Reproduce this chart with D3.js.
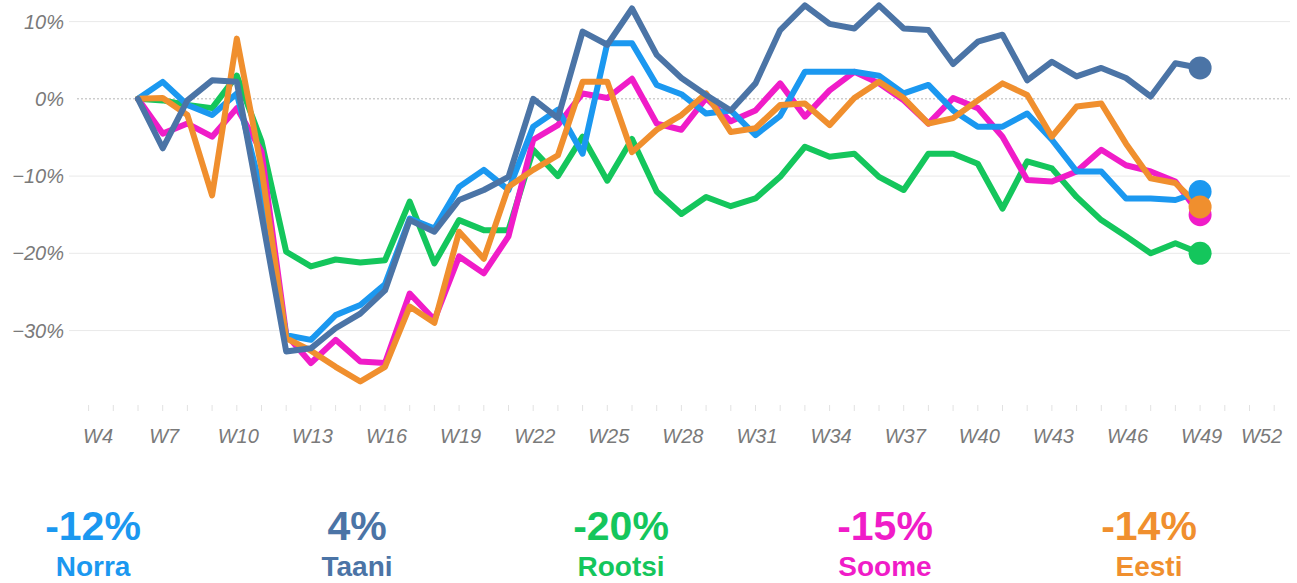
<!DOCTYPE html>
<html>
<head>
<meta charset="utf-8">
<script src="https://cdn.jsdelivr.net/npm/d3@7"></script>
<style>
  html, body { margin: 0; padding: 0; background: #fff; }
  svg { display: block; }
  text { font-family: "Liberation Sans", Arial, Helvetica, sans-serif; }
</style>
</head>
<body>
<svg id="chart" width="1297" height="583"></svg>
<script>
// Weekly change vs. baseline (%), weeks 6..49
const weeks = d3.range(6, 50);

const norra = [0, 2.2, -0.8, -2.1, 0.7, -12, -30.6, -31.2, -28, -26.7, -24, -15.5, -16.8, -11.4, -9.2, -11.8,
  -3.6, -1.4, -7.1, 7.2, 7.2, 1.8, 0.6, -1.9, -1.5, -4.7, -2.2, 3.5, 3.5, 3.5, 3.0, 0.7, 1.8, -1.5,
  -3.6, -3.6, -1.9, -5.3, -9.4, -9.4, -12.9, -12.9, -13.1, -12];

const taani = [0, -6.4, -0.2, 2.4, 2.2, -15, -32.7, -32.3, -29.7, -27.8, -24.8, -15.7, -17.2, -13.1, -11.8, -10.1,
  0, -2.5, 8.7, 7, 11.7, 5.7, 2.7, 0.5, -1.5, 2.0, 8.9, 12.1, 9.7, 9.1, 12.1, 9.1, 8.9, 4.5,
  7.4, 8.3, 2.4, 4.8, 2.9, 4.0, 2.7, 0.3, 4.6, 4];

const rootsi = [0, -0.2, -0.8, -1.2, 3.0, -5.5, -19.8, -21.7, -20.8, -21.2, -20.9, -13.3, -21.3, -15.7, -17, -17,
  -6.6, -10, -4.9, -10.6, -5.2, -12, -14.9, -12.7, -13.9, -12.9, -10.1, -6.2, -7.5, -7.1, -10.1, -11.8, -7.1, -7.1,
  -8.4, -14.2, -8.1, -9.0, -12.7, -15.7, -17.8, -20.0, -18.7, -20];

const soome = [0, -4.5, -3.2, -4.9, -1.2, -6.8, -30.5, -34.2, -31.2, -34, -34.2, -25.2, -28.6, -20.4, -22.6, -17.8,
  -5.3, -3.4, 0.7, 0.1, 2.6, -3.2, -4.0, 0.1, -2.9, -1.5, 2.0, -2.3, 1.1, 3.5, 2.0, -0.2, -3.2, 0.1,
  -1.2, -4.9, -10.5, -10.7, -9.4, -6.6, -8.6, -9.4, -10.7, -15];

const eesti = [0, 0.1, -2.1, -12.5, 7.8, -9, -31, -32.6, -34.7, -36.6, -34.7, -26.9, -29, -17.2, -20.7, -11.4,
  -9.2, -7.3, 2.2, 2.2, -6.9, -4.0, -2.1, 0.7, -4.3, -3.8, -0.8, -0.6, -3.4, 0.1, 2.2, 0.1, -3.2, -2.5,
  -0.2, 2.0, 0.5, -4.9, -1.0, -0.6, -5.8, -10.3, -10.9, -14];

const seriesNames = ["Norra", "Taani", "Rootsi", "Soome", "Eesti"];
const seriesValues = [norra, taani, rootsi, soome, eesti];
const seriesColors = ["#1b98f0", "#4b74a6", "#14c65c", "#f01cc8", "#f08f2e"];
// stacking order of the lines (bottom to top)
const drawOrder = ["Rootsi", "Soome", "Norra", "Eesti", "Taani"];

const yTicks = [10, 0, -10, -20, -30];
const xTickWeeks = [4, 7, 10, 13, 16, 19, 22, 25, 28, 31, 34, 37, 40, 43, 46, 49, 52];
const allWeeks = d3.range(4, 53);

const svg = d3.select("#chart");

const x = d3.scaleLinear().domain([4, 52]).range([88.6, 1274.2]);
const y = d3.scaleLinear().domain([-40, 10]).range([407.8, 21.6]);

const fmtPct = v => (v < 0 ? "\u2212" : "") + Math.abs(v) + "%";

// horizontal gridlines
const grid = svg.append("g");
grid.selectAll("line")
  .data(yTicks)
  .join("line")
  .attr("x1", d => d === 0 ? 77 : 69)
  .attr("x2", 1290)
  .attr("y1", d => y(d))
  .attr("y2", d => y(d))
  .attr("stroke", d => d === 0 ? "#b5b5b5" : "#e9e9e9")
  .attr("stroke-width", 1)
  .attr("stroke-dasharray", d => d === 0 ? "2,2" : null);

// y axis labels
svg.append("g").selectAll("text")
  .data(yTicks)
  .join("text")
  .attr("x", 64)
  .attr("y", d => y(d) + 7)
  .attr("text-anchor", "end")
  .attr("font-size", 20)
  .attr("font-style", "italic")
  .attr("fill", "#7a7a7a")
  .text(fmtPct);

// week tick marks
svg.append("g").selectAll("line")
  .data(allWeeks)
  .join("line")
  .attr("x1", d => x(d))
  .attr("x2", d => x(d))
  .attr("y1", 405)
  .attr("y2", 411)
  .attr("stroke", "#e2e2e2")
  .attr("stroke-width", 1);

// week labels, kept inside the chart edges
const xl = svg.append("g").selectAll("text")
  .data(xTickWeeks)
  .join("text")
  .attr("x", d => x(d) + 1.5)
  .attr("y", 443)
  .attr("text-anchor", "middle")
  .attr("font-size", 20)
  .attr("font-style", "italic")
  .attr("fill", "#7a7a7a")
  .text(d => "W" + d);
xl.each(function() {
  const t = d3.select(this);
  const w = this.getComputedTextLength();
  let cx = +t.attr("x");
  if (cx - w / 2 < 83) cx = 83 + w / 2;
  if (cx + w / 2 > 1282) cx = 1282 - w / 2;
  t.attr("x", cx);
});

// lines and end dots
const line = d3.line()
  .x((d, i) => x(weeks[i]))
  .y(d => y(d));

const plot = svg.append("g");
drawOrder.forEach(name => {
  const k = seriesNames.indexOf(name);
  const vals = seriesValues[k];
  plot.append("path")
    .datum(vals)
    .attr("d", line)
    .attr("fill", "none")
    .attr("stroke", seriesColors[k])
    .attr("stroke-width", 6)
    .attr("stroke-linejoin", "round")
    .attr("stroke-linecap", "round");
});
drawOrder.forEach(name => {
  const k = seriesNames.indexOf(name);
  const vals = seriesValues[k];
  plot.append("circle")
    .attr("cx", x(weeks[weeks.length - 1]))
    .attr("cy", y(vals[vals.length - 1]))
    .attr("r", 11.5)
    .attr("fill", seriesColors[k]);
});

// summary labels: latest value and country name
const cols = d3.scaleLinear().domain([0, 4]).range([93, 1149]);
const summary = svg.append("g").selectAll("g")
  .data(seriesNames)
  .join("g")
  .attr("transform", (d, i) => `translate(${cols(i)},0)`);
summary.append("text")
  .attr("y", 540)
  .attr("text-anchor", "middle")
  .attr("font-size", 41)
  .attr("font-weight", "bold")
  .attr("fill", (d, i) => seriesColors[i])
  .text((d, i) => {
    const v = seriesValues[i][seriesValues[i].length - 1];
    return (v < 0 ? "-" : "") + Math.abs(v) + "%";
  });
summary.append("text")
  .attr("y", 576)
  .attr("text-anchor", "middle")
  .attr("font-size", 28)
  .attr("font-weight", "bold")
  .attr("fill", (d, i) => seriesColors[i])
  .text(d => d);
</script>
</body>
</html>
